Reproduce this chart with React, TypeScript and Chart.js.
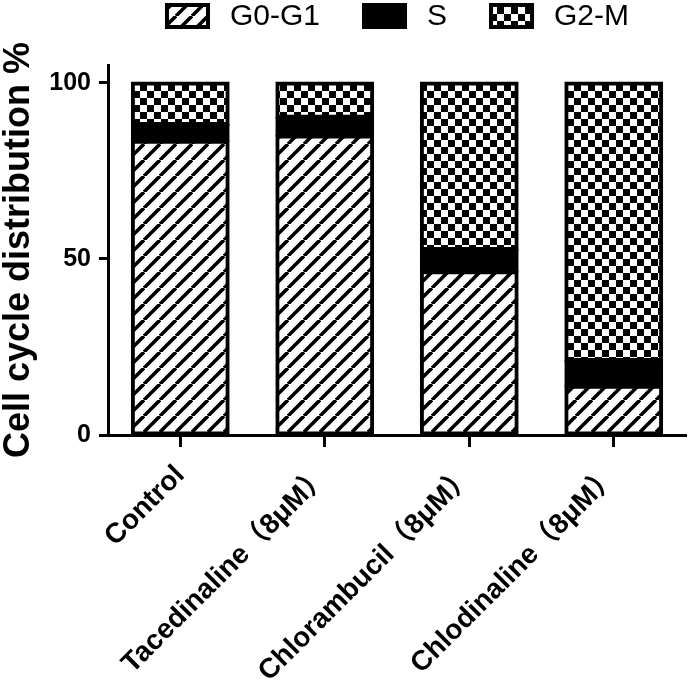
import React, { useEffect, useRef } from 'react';
import { Chart, registerables } from 'chart.js';
Chart.register(...registerables);

const categories = ['Control', 'Tacedinaline（8μM）', 'Chlorambucil（8μM）', 'Chlodinaline（8μM）'];
const seriesNames = ['G0-G1', 'S', 'G2-M'];
const g0g1 = [83.5, 85, 46.5, 14];
const sPhase = [4.5, 5, 6, 7];
const g2m = [12, 10, 47.5, 79];
const yTicks = [0, 50, 100];
const yMax = 105;
const yTitle = 'Cell cycle distribution %';

const FONT = "'Liberation Sans', Arial, 'Noto Sans CJK SC', sans-serif";

function hatchPattern(): CanvasPattern | string {
  const s = 16;
  const c = document.createElement('canvas');
  c.width = s; c.height = s;
  const x = c.getContext('2d');
  if (!x) return '#000';
  x.fillStyle = '#fff';
  x.fillRect(0, 0, s, s);
  x.strokeStyle = '#000';
  x.lineWidth = 3.6;
  for (const k of [-1, 0, 1]) {
    x.beginPath();
    x.moveTo(k * s, s);
    x.lineTo(k * s + s, 0);
    x.stroke();
  }
  return x.createPattern(c, 'repeat') || '#000';
}

function checkerPattern(): CanvasPattern | string {
  const q = 7;
  const c = document.createElement('canvas');
  c.width = q * 2; c.height = q * 2;
  const x = c.getContext('2d');
  if (!x) return '#000';
  x.fillStyle = '#fff';
  x.fillRect(0, 0, q * 2, q * 2);
  x.fillStyle = '#000';
  x.fillRect(0, 0, q, q);
  x.fillRect(q, q, q, q);
  return x.createPattern(c, 'repeat') || '#000';
}

const legendPlugin = {
  id: 'customLegend',
  afterDraw(chart: any) {
    const ctx = chart.ctx as CanvasRenderingContext2D;
    const area = chart.chartArea;
    const boxW = 45, boxH = 26, gapText = 20, gapItem = 42;
    ctx.save();
    ctx.font = `30px ${FONT}`;
    const items = chart.data.datasets.map((d: any) => ({
      label: d.label as string,
      fill: d.backgroundColor,
      w: ctx.measureText(d.label).width,
    }));
    const total = items.reduce((a: number, it: any) => a + boxW + gapText + it.w, 0) + gapItem * (items.length - 1);
    let x = (area.left + area.right) / 2 - total / 2;
    const top = 3;
    items.forEach((it: any) => {
      ctx.fillStyle = it.fill;
      ctx.fillRect(x, top, boxW, boxH);
      ctx.strokeStyle = '#000';
      ctx.lineWidth = 4;
      ctx.strokeRect(x + 2, top + 2, boxW - 4, boxH - 4);
      ctx.fillStyle = '#000';
      ctx.textBaseline = 'middle';
      ctx.textAlign = 'left';
      ctx.fillText(it.label, x + boxW + gapText, top + boxH / 2 + 1);
      x += boxW + gapText + it.w + gapItem;
    });
    ctx.restore();
  },
};

export default function App() {
  const ref = useRef<HTMLCanvasElement>(null);
  useEffect(() => {
    if (!ref.current) return;
    const hatch = hatchPattern();
    const checker = checkerPattern();
    const common = {
      borderColor: '#000',
      borderWidth: 4,
      borderSkipped: false as any,
      inflateAmount: 1,
      barPercentage: 0.67,
      categoryPercentage: 1,
    };
    const chart = new Chart(ref.current, {
      type: 'bar',
      data: {
        labels: categories,
        datasets: [
          { label: seriesNames[0], data: g0g1, backgroundColor: hatch as any, ...common },
          { label: seriesNames[1], data: sPhase, backgroundColor: '#000', ...common },
          { label: seriesNames[2], data: g2m, backgroundColor: checker as any, ...common },
        ],
      },
      options: {
        responsive: false,
        animation: false,
        layout: { padding: { top: 65, right: 4, left: 0, bottom: 0 } },
        plugins: { legend: { display: false }, tooltip: { enabled: false } },
        scales: {
          x: {
            stacked: true,
            grid: { display: true, drawOnChartArea: false, drawTicks: true, offset: false, tickLength: 12, tickWidth: 3, tickColor: '#000' },
            border: { display: true, color: '#000', width: 3 },
            ticks: {
              color: '#000',
              font: { family: FONT, size: 28, weight: 'bold' },
              maxRotation: 45,
              minRotation: 45,
              padding: 12,
              autoSkip: false,
            },
            afterFit: (s: any) => { s.height = 255; },
          },
          y: {
            stacked: true,
            min: 0,
            max: yMax,
            grid: { display: true, drawOnChartArea: false, drawTicks: true, tickLength: 9, tickWidth: 3, tickColor: '#000' },
            border: { display: true, color: '#000', width: 3 },
            afterBuildTicks: (s: any) => { s.ticks = yTicks.map((v) => ({ value: v })); },
            ticks: {
              color: '#000',
              font: { family: FONT, size: 25, weight: 'bold' },
              padding: 8,
            },
            title: {
              display: true,
              text: yTitle,
              color: '#000',
              font: { family: FONT, size: 36, weight: 'bold', lineHeight: 1 },
              padding: { top: 1, bottom: 0 },
            },
            afterFit: (s: any) => { s.width = 108; },
          },
        },
      },
      plugins: [legendPlugin],
    });
    return () => chart.destroy();
  }, []);
  return (
    <div style={{ position: 'fixed', left: 0, top: 0, width: 690, height: 690, background: '#fff' }}>
      <canvas ref={ref} width={690} height={690} style={{ width: 690, height: 690, display: 'block' }} />
    </div>
  );
}
